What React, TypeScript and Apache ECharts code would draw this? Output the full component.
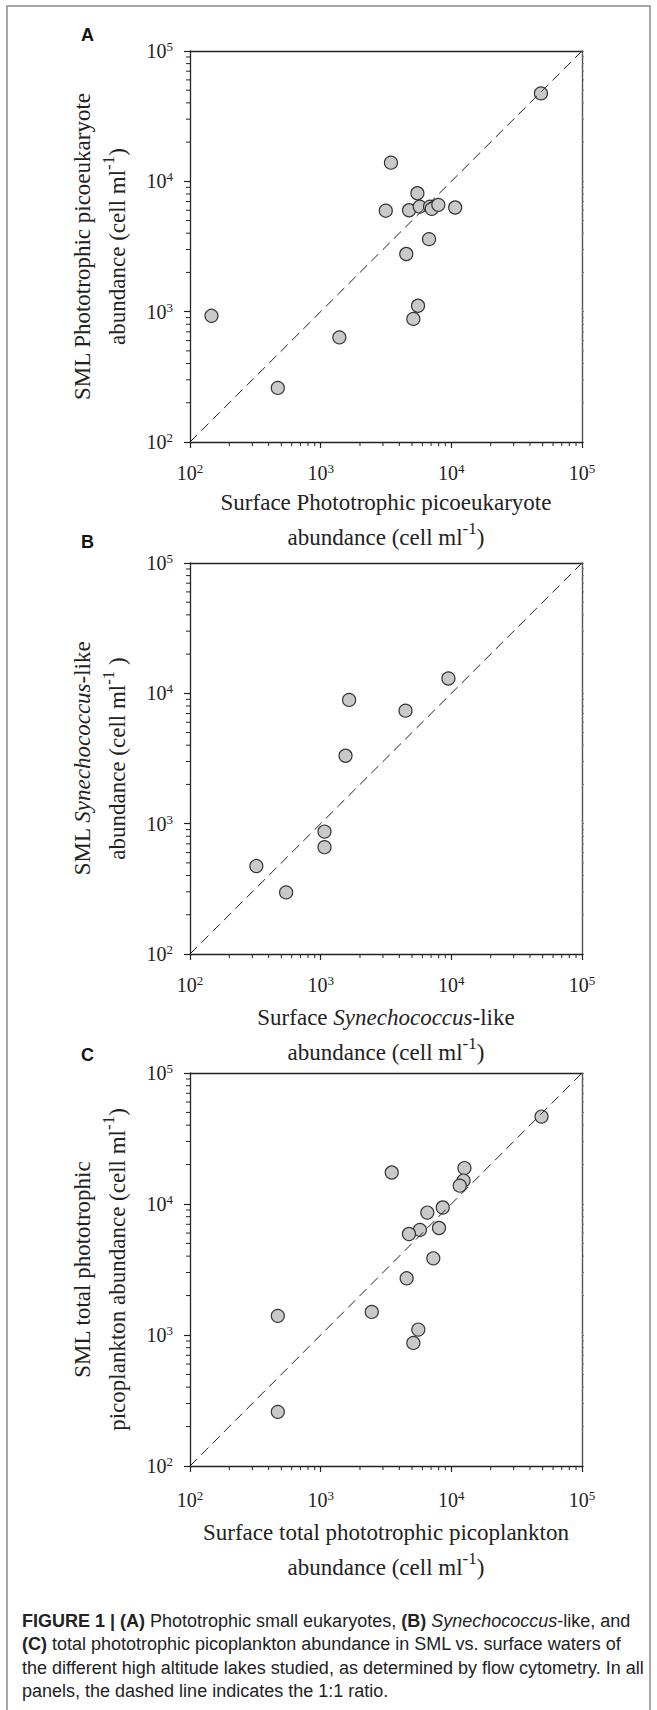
import React, { useEffect, useRef } from 'react';
import * as echarts from 'echarts';

// ---------- data ----------
const MAJOR_TICKS = [100, 1000, 10000, 100000];
const MINOR_TICKS = [
  200, 300, 400, 500, 600, 700, 800, 900,
  2000, 3000, 4000, 5000, 6000, 7000, 8000, 9000,
  20000, 30000, 40000, 50000, 60000, 70000, 80000, 90000,
];
const ONE_TO_ONE = [100, 100000];

// Panel A: phototrophic picoeukaryotes
const surfacePicoeuk = [146, 470, 1390, 3450, 5500, 3150, 4750, 5730, 6870, 7080, 7950, 10700, 6750, 4520, 5560, 5120, 48500];
const smlPicoeuk = [930, 260, 635, 13900, 8100, 5950, 6000, 6400, 6400, 6150, 6600, 6300, 3600, 2770, 1110, 880, 47300];

// Panel B: Synechococcus-like
const surfaceSyn = [9500, 1650, 4460, 1550, 1070, 1070, 322, 544];
const smlSyn = [13000, 8900, 7360, 3320, 870, 660, 473, 297];

// Panel C: total phototrophic picoplankton
const surfaceTotal = [49000, 12600, 12400, 11600, 3500, 8600, 6550, 5750, 4740, 8050, 7280, 4550, 2460, 5590, 5120, 470, 470];
const smlTotal = [46500, 18800, 15100, 13800, 17400, 9400, 8600, 6340, 5900, 6560, 3850, 2710, 1500, 1100, 870, 1400, 259];

const panelLabels = ['A', 'B', 'C'];
const xTitles = [
  'Surface Phototrophic picoeukaryote\nabundance (cell ml{s|-1})',
  'Surface {i|Synechococcus}-like\nabundance (cell ml{s|-1})',
  'Surface total phototrophic picoplankton\nabundance (cell ml{s|-1})',
];
const yTitles = [
  'SML Phototrophic picoeukaryote\nabundance (cell ml{s|-1})',
  'SML {i|Synechococcus}-like\nabundance (cell ml{s|-1} )',
  'SML total phototrophic\npicoplankton abundance (cell ml{s|-1})',
];
const captionLines = [
  '{b|FIGURE 1 | (A)} Phototrophic small eukaryotes, {b|(B)} {i|Synechococcus}-like, and',
  '{b|(C)} total phototrophic picoplankton abundance in SML vs. surface waters of',
  'the different high altitude lakes studied, as determined by flow cytometry. In all',
  'panels, the dashed line indicates the 1:1 ratio.',
];

// ---------- layout ----------
const GRID_LEFT = 190;
const GRID_WIDTH = 392;
const layouts = [
  { top: 51, height: 391, labelY: 35, xLabelMargin: 20, xNameGap: 43 },
  { top: 563, height: 391, labelY: 542, xLabelMargin: 20, xNameGap: 46 },
  { top: 1073, height: 393, labelY: 1055, xLabelMargin: 23, xNameGap: 49 },
];

const SERIF = '"Liberation Serif", "Times New Roman", serif';
const SANS = '"Liberation Sans", Arial, Helvetica, sans-serif';
const INK = '#222';
const TITLE_SIZE = 23;

const tickRich = {
  b: { fontFamily: SERIF, fontSize: 20, color: INK, lineHeight: 22 },
  s: { fontFamily: SERIF, fontSize: 13, color: INK, lineHeight: 13, verticalAlign: 'top' },
};
const tickFormatter = (v: number) => '{b|10}{s|' + Math.round(Math.log10(v)) + '}';

const nameStyle = {
  fontFamily: SERIF,
  fontSize: TITLE_SIZE,
  color: INK,
  lineHeight: 35,
  rich: {
    i: { fontFamily: SERIF, fontSize: TITLE_SIZE, fontStyle: 'italic', color: INK, lineHeight: 35 },
    s: { fontFamily: SERIF, fontSize: 17, color: INK, lineHeight: 22, verticalAlign: 'top' },
  },
};

const axisLine = (color: string, width: number) => ({ show: true, onZero: false, lineStyle: { color, width } });

function buildOption() {
  const xs = [surfacePicoeuk, surfaceSyn, surfaceTotal];
  const ys = [smlPicoeuk, smlSyn, smlTotal];
  const grid: any[] = [];
  const xAxis: any[] = [];
  const yAxis: any[] = [];
  const series: any[] = [];
  const graphic: any[] = [];

  layouts.forEach((L, gi) => {
    grid.push({ left: GRID_LEFT, top: L.top, width: GRID_WIDTH, height: L.height, containLabel: false });
    const base = { type: 'log', logBase: 10, gridIndex: gi, min: 100, max: 100000, splitLine: { show: false }, minorTick: { show: false } };
    xAxis.push({
      ...base,
      position: 'bottom',
      axisLine: axisLine(INK, 1.3),
      axisTick: { show: true, length: 6, lineStyle: { color: INK, width: 1.2 } },
      axisLabel: { show: true, formatter: tickFormatter, rich: tickRich, margin: L.xLabelMargin },
      name: xTitles[gi],
      nameLocation: 'middle',
      nameGap: L.xNameGap,
      nameTextStyle: nameStyle,
    });
    xAxis.push({
      ...base,
      position: 'top',
      axisLine: axisLine(INK, 1.3),
      axisTick: { show: false },
      axisLabel: { show: false },
    });
    yAxis.push({
      ...base,
      position: 'left',
      axisLine: axisLine(INK, 1.3),
      axisTick: { show: true, length: 6, lineStyle: { color: INK, width: 1.2 } },
      axisLabel: { show: true, formatter: tickFormatter, rich: tickRich, margin: 17 },
      name: yTitles[gi],
      nameLocation: 'middle',
      nameRotate: 90,
      nameGap: 55,
      nameTextStyle: nameStyle,
    });
    yAxis.push({
      ...base,
      position: 'right',
      axisLine: axisLine('#555', 1.4),
      axisTick: { show: true, length: 2, lineStyle: { color: '#777', width: 1 } },
      axisLabel: { show: false },
    });

    const ax = gi * 2;
    // minor ticks on the log axes, placed through the axes' own scales
    series.push({
      type: 'custom',
      xAxisIndex: ax,
      yAxisIndex: ax,
      data: MINOR_TICKS.map((v) => [v, v]),
      clip: false,
      silent: true,
      z: 2,
      renderItem: (_params: any, api: any) => {
        const v = api.value(0);
        const b = api.coord([v, 100]);
        const l = api.coord([100, v]);
        const r = api.coord([100000, v]);
        const ls = { stroke: INK, lineWidth: 1 };
        return {
          type: 'group',
          children: [
            { type: 'line', shape: { x1: b[0], y1: b[1], x2: b[0], y2: b[1] + 4 }, style: ls },
            { type: 'line', shape: { x1: l[0] - 4, y1: l[1], x2: l[0], y2: l[1] }, style: ls },
            { type: 'line', shape: { x1: r[0], y1: r[1], x2: r[0] + 2, y2: r[1] }, style: { stroke: '#777', lineWidth: 1 } },
          ],
        };
      },
    });
    series.push({
      type: 'scatter',
      xAxisIndex: ax,
      yAxisIndex: ax,
      data: xs[gi].map((x, i) => [x, ys[gi][i]]),
      symbol: 'circle',
      symbolSize: 13,
      itemStyle: { color: '#c9c9c9', borderColor: '#333', borderWidth: 1.2, opacity: 1 },
      z: 3,
      silent: true,
    });
    series.push({
      type: 'line',
      xAxisIndex: ax,
      yAxisIndex: ax,
      data: ONE_TO_ONE.map((v) => [v, v]),
      symbol: 'none',
      lineStyle: { type: [10, 6], color: INK, width: 1 },
      z: 4,
      silent: true,
    });

    graphic.push({
      type: 'text',
      left: 81,
      top: L.labelY - 9,
      style: { text: panelLabels[gi], fontFamily: SANS, fontWeight: 'bold', fontSize: 18, fill: '#111' },
      z: 10,
    });
  });

  graphic.push({
    type: 'rect',
    shape: { x: 7, y: 6, width: 643, height: 1730 },
    style: { fill: 'none', stroke: '#8a8a8a', lineWidth: 1.5 },
    z: 1,
  });

  const CAP = 18;
  const capRich = {
    b: { fontFamily: SANS, fontSize: CAP, fontWeight: 'bold', fill: '#222' },
    i: { fontFamily: SANS, fontSize: CAP, fontStyle: 'italic', fill: '#222' },
  };
  captionLines.forEach((line, li) => {
    graphic.push({
      type: 'text',
      x: 22,
      y: 1621 + li * 23.3,
      style: {
        text: line,
        rich: capRich,
        fontFamily: SANS,
        fontSize: CAP,
        fill: '#222',
        align: 'left',
        verticalAlign: 'middle',
      },
      z: 10,
    });
  });

  return {
    animation: false,
    backgroundColor: '#ffffff',
    grid,
    xAxis,
    yAxis,
    series,
    graphic,
  };
}

export default function App() {
  const ref = useRef<HTMLDivElement>(null);
  useEffect(() => {
    if (!ref.current) return;
    const chart = echarts.init(ref.current, undefined, { renderer: 'svg' });
    chart.setOption(buildOption() as any);
    return () => chart.dispose();
  }, []);
  return (
    <div
      ref={ref}
      style={{ position: 'absolute', left: 0, top: 0, width: 657, height: 1710, background: '#fff' }}
    />
  );
}
